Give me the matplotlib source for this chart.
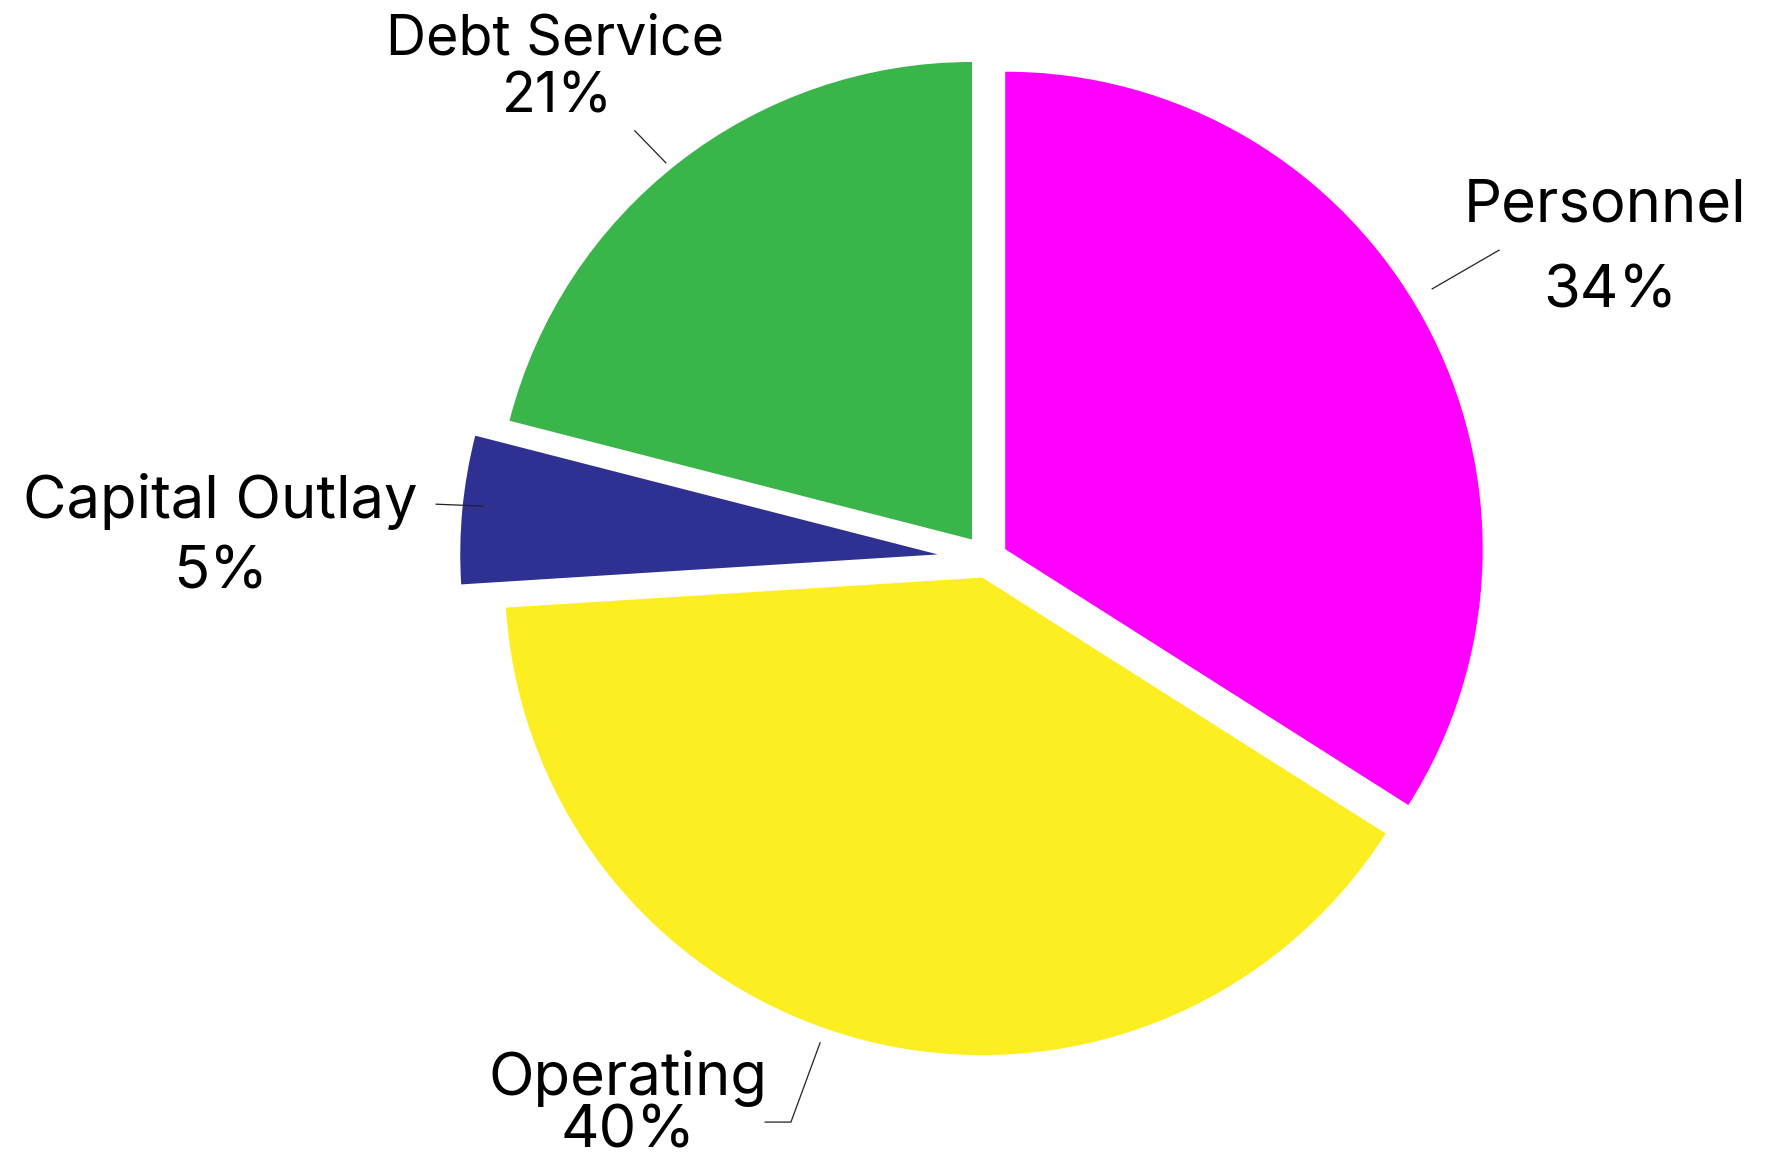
#!/usr/bin/env python3
"""Budget split pie chart: Personnel / Operating / Capital Outlay / Debt Service."""

from __future__ import annotations

import matplotlib

matplotlib.use("Agg")
import matplotlib.pyplot as plt


CATEGORIES = ["Personnel", "Operating", "Capital Outlay", "Debt Service"]
SHARES = [34, 40, 5, 21]
COLORS = ["#FF00FF", "#FCEE21", "#2E3192", "#39B54A"]
EXPLODE = [0.043, 0.040, 0.104, 0.052]

# label layout in pie units (radius = 1): name baseline, percent baseline, font size
LABEL_POS = {
    "Personnel": ((1.294, 0.706), (1.304, 0.526), 43),
    "Capital Outlay": ((-1.607, 0.086), (-1.605, -0.061), 43),
    "Debt Service": ((-0.904, 1.056), (-0.900, 0.936), 40),
}
# Operating name and share sit tight together, so draw them as one two-line text
# (anchored on the baseline of its last line)
OPERATING_POS = (-0.753, -1.232)

LEADERS = {
    "Personnel": [(0.932, 0.566), (1.072, 0.647)],
    "Operating": [(-0.350, -1.013), (-0.411, -1.179), (-0.465, -1.179)],
    "Capital Outlay": [(-1.056, 0.111), (-1.154, 0.115)],
    "Debt Service": [(-0.673, 0.830), (-0.738, 0.897)],
}


def main() -> None:
    plt.rcParams["font.family"] = ["Inter", "DejaVu Sans"]
    fig = plt.figure(figsize=(17.73, 11.58), dpi=100)
    ax = fig.add_axes([0, 0, 1, 1])

    ax.pie(
        SHARES,
        colors=COLORS,
        explode=EXPLODE,
        startangle=90,
        counterclock=False,
        radius=1.0,
        wedgeprops={"linewidth": 0},
    )

    for name, share in zip(CATEGORIES, SHARES):
        if name == "Operating":
            ax.text(*OPERATING_POS, f"{name}\n{share}%", ha="center", va="baseline",
                    multialignment="center", linespacing=0.93, fontsize=43, color="black")
        else:
            (nx, ny), (px, py), size = LABEL_POS[name]
            ax.text(nx, ny, name, ha="center", va="baseline", fontsize=size, color="black")
            ax.text(px, py, f"{share}%", ha="center", va="baseline", fontsize=size, color="black")
        xs, ys = zip(*LEADERS[name])
        ax.plot(xs, ys, color="#222222", linewidth=0.9)

    # map pie units onto the canvas (477.5 px per unit, pie centre at 987 / 559 px)
    scale = 477.5
    ax.set_xlim(-987.2 / scale, (1773 - 987.2) / scale)
    ax.set_ylim(-(1158 - 559.1) / scale, 559.1 / scale)
    ax.set_aspect("auto")
    ax.axis("off")

    fig.savefig("out.png", dpi=100, facecolor="white")
    plt.close(fig)


if __name__ == "__main__":
    main()
